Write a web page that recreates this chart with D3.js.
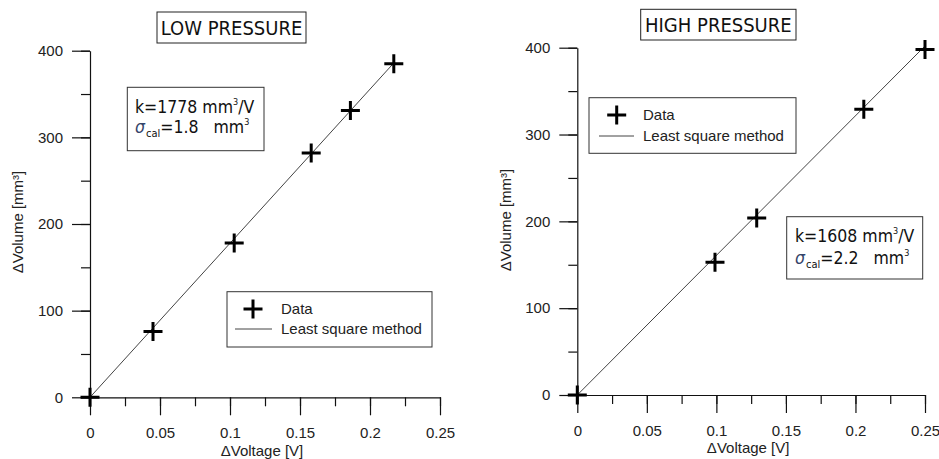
<!DOCTYPE html>
<html>
<head>
<meta charset="utf-8">
<script src="https://cdn.jsdelivr.net/npm/d3@7"></script>
<style>
  html, body { margin: 0; padding: 0; background: #fff; }
  svg { display: block; }
  text { white-space: pre; }
</style>
</head>
<body>
<svg id="chart" width="939" height="459"></svg>
<script>
// Calibration data: volume change versus voltage change
const voltageTicks = [0, 0.05, 0.1, 0.15, 0.2, 0.25];
const volumeTicks = [0, 100, 200, 300, 400];

const lowVoltage = [0, 0.045, 0.103, 0.158, 0.186, 0.217];
const lowVolume  = [0, 76, 178, 282, 331, 385];
const lowK = 1778;
const lowSigma = 1.8;

const highVoltage = [0, 0.099, 0.129, 0.206, 0.250];
const highVolume  = [0, 153, 204, 329, 398];
const highK = 1608;
const highSigma = 2.2;

const panelTitles = ["LOW PRESSURE", "HIGH PRESSURE"];
const legendLabels = ["Data", "Least square method"];
const xAxisTitle = "\u0394Voltage [V]";
const yAxisTitle = "\u0394Volume [mm\u00B3]";

const svg = d3.select("#chart");
const labelFont = "'Liberation Sans', Arial, sans-serif";
const boxFont = "'DejaVu Sans Condensed', 'DejaVu Sans', sans-serif";

function crossPath(size) {
  return `M${-size},0H${size}M0,${-size}V${size}`;
}

function drawPanel(cfg) {
  const g = svg.append("g");
  const x = d3.scaleLinear().domain([0, 0.25]).range([cfg.left, cfg.right]);
  const y = d3.scaleLinear().domain([0, 400]).range([cfg.bottom, cfg.top]);

  // minor ticks
  const minorX = d3.axisBottom(x).tickValues(d3.range(0, 0.2501, 0.025)).tickSize(9).tickFormat("");
  const minorY = d3.axisLeft(y).tickValues(d3.range(0, 401, 50)).tickSize(9).tickFormat("");
  g.append("g").attr("transform", `translate(0,${cfg.bottom})`).call(minorX).call(a => a.select(".domain").remove());
  g.append("g").attr("transform", `translate(${cfg.left},0)`).call(minorY).call(a => a.select(".domain").remove());

  // major ticks with labels
  const xAxis = d3.axisBottom(x).tickValues(voltageTicks).tickSize(18).tickSizeOuter(0)
    .tickPadding(12).tickFormat(d => d3.format("")(+d.toFixed(3)));
  const yAxis = d3.axisLeft(y).tickValues(volumeTicks).tickSize(18).tickSizeOuter(0)
    .tickPadding(9).tickFormat(d3.format("d"));
  const gx = g.append("g").attr("transform", `translate(0,${cfg.bottom})`).call(xAxis);
  const gy = g.append("g").attr("transform", `translate(${cfg.left},0)`).call(yAxis);

  [gx, gy].forEach(a => {
    a.select(".domain").attr("stroke", "#111").attr("stroke-width", 1.2);
    a.selectAll("text").attr("font-family", labelFont).attr("font-size", 15).attr("fill", "#222");
  });
  svg.selectAll(".tick line").attr("stroke", "#111").attr("stroke-width", 1.2);

  // axis titles
  g.append("text")
    .attr("x", (cfg.left + cfg.right) / 2 - 3).attr("y", cfg.xTitleY)
    .attr("text-anchor", "middle")
    .attr("font-family", labelFont).attr("font-size", 15).attr("fill", "#222")
    .text(xAxisTitle);
  g.append("text")
    .attr("transform", `translate(${cfg.yTitleX},${cfg.yTitleMid}) rotate(-90)`)
    .attr("text-anchor", "middle")
    .attr("font-family", labelFont).attr("font-size", 15).attr("fill", "#222")
    .text(yAxisTitle);

  // least-squares line
  const xMax = d3.max(cfg.voltage);
  g.append("line")
    .attr("x1", x(0)).attr("y1", y(0))
    .attr("x2", x(xMax)).attr("y2", y(cfg.k * xMax))
    .attr("stroke", "#444").attr("stroke-width", 1);

  // data markers
  g.selectAll("path.pt")
    .data(cfg.voltage.map((v, i) => [v, cfg.volume[i]]))
    .join("path")
    .attr("class", "pt")
    .attr("transform", d => `translate(${x(d[0])},${y(d[1])})`)
    .attr("d", crossPath(9.5))
    .attr("stroke", "#000").attr("stroke-width", 3);

  // title box
  const t = cfg.titleBox;
  g.append("rect").attr("x", t[0]).attr("y", t[1]).attr("width", t[2] - t[0]).attr("height", t[3] - t[1])
    .attr("fill", "#fff").attr("stroke", "#222").attr("stroke-width", 1);
  g.append("text").attr("x", (t[0] + t[2]) / 2).attr("y", cfg.titleBaseline)
    .attr("text-anchor", "middle")
    .attr("font-family", boxFont).attr("font-size", 20).attr("fill", "#111")
    .text(cfg.title);

  // legend
  const L = cfg.legendBox;
  g.append("rect").attr("x", L[0]).attr("y", L[1]).attr("width", L[2] - L[0]).attr("height", L[3] - L[1])
    .attr("fill", "#fff").attr("stroke", "#333").attr("stroke-width", 1);
  g.append("path").attr("transform", `translate(${cfg.legendCross[0]},${cfg.legendCross[1]})`)
    .attr("d", crossPath(9.5)).attr("stroke", "#000").attr("stroke-width", 3);
  g.append("line").attr("x1", cfg.legendLine[0]).attr("x2", cfg.legendLine[1])
    .attr("y1", cfg.legendLine[2]).attr("y2", cfg.legendLine[2])
    .attr("stroke", "#444").attr("stroke-width", 1);
  legendLabels.forEach((lab, i) => {
    g.append("text").attr("x", cfg.legendTextX).attr("y", cfg.legendTextY[i])
      .attr("font-family", labelFont).attr("font-size", 15).attr("fill", "#222")
      .text(lab);
  });

  // slope / sigma box
  const K = cfg.kBox;
  g.append("rect").attr("x", K[0]).attr("y", K[1]).attr("width", K[2] - K[0]).attr("height", K[3] - K[1])
    .attr("fill", "#fff").attr("stroke", "#333").attr("stroke-width", 1);
  const l1 = g.append("text").attr("x", cfg.kTextX).attr("y", cfg.kTextY[0])
    .attr("font-family", boxFont).attr("font-size", 17.5).attr("fill", "#111");
  l1.append("tspan").text(`k=${cfg.k} mm`);
  l1.append("tspan").attr("font-size", 9).attr("dy", -8).text("3");
  l1.append("tspan").attr("dy", 8).text("/V");
  const l2 = g.append("text").attr("x", cfg.kTextX).attr("y", cfg.kTextY[1])
    .attr("font-family", boxFont).attr("font-size", 17.5).attr("fill", "#111");
  l2.append("tspan").attr("font-style", "italic").attr("fill", "#34446a").text("\u03C3");
  l2.append("tspan").attr("font-size", 11).attr("dy", 4).attr("dx", 1).text("cal");
  l2.append("tspan").attr("dy", -4).text(`=${cfg.sigma}   mm`);
  l2.append("tspan").attr("font-size", 9).attr("dy", -8).text("3");
}

drawPanel({
  left: 90, right: 440, bottom: 397.3, top: 50.7,
  voltage: lowVoltage, volume: lowVolume, k: lowK, sigma: lowSigma,
  title: panelTitles[0], titleBox: [157, 12, 306, 43], titleBaseline: 35,
  xTitleY: 456, yTitleX: 23, yTitleMid: 222,
  legendBox: [227, 291.7, 432, 347], legendCross: [253, 309], legendLine: [235, 272, 329],
  legendTextX: 281, legendTextY: [313.5, 334],
  kBox: [127.3, 87.3, 264, 150.7], kTextX: 135, kTextY: [113.3, 133.3]
});

drawPanel({
  left: 577.3, right: 925, bottom: 395, top: 47.7,
  voltage: highVoltage, volume: highVolume, k: highK, sigma: highSigma,
  title: panelTitles[1], titleBox: [640.7, 9.3, 796, 40], titleBaseline: 32.3,
  xTitleY: 452.5, yTitleX: 511, yTitleMid: 220,
  legendBox: [589, 97.7, 796, 153.3], legendCross: [616.7, 115], legendLine: [599, 634, 136],
  legendTextX: 643, legendTextY: [120, 140.7],
  kBox: [786.7, 216.7, 922.7, 279], kTextX: 795, kTextY: [242.3, 264.3]
});
</script>
</body>
</html>
